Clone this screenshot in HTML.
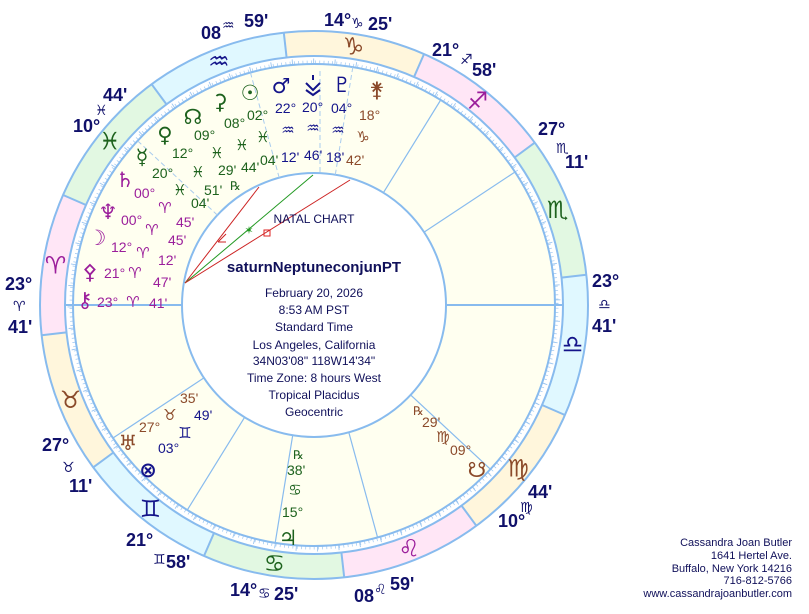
<!DOCTYPE html>
<html><head><meta charset="utf-8"><style>
html,body{margin:0;padding:0;background:#fff;width:809px;height:614px;overflow:hidden}
svg{display:block}
.n{font-family:"Liberation Sans",sans-serif;font-size:14px}
.g{font-family:"DejaVu Sans",sans-serif}
.c{font-family:"Liberation Sans",sans-serif;font-weight:bold;font-size:18px;fill:#10106a}
.cg{font-family:"DejaVu Sans",sans-serif;font-weight:bold;font-size:14px;fill:#10106a}
.ct{font-family:"Liberation Sans",sans-serif;font-size:12px;fill:#10105a}
.G{fill:#1d621d}.B{fill:#14148a}.P{fill:#9b1e9b}.R{fill:#8b4a2a}
</style></head><body>
<svg width="809" height="614" viewBox="0 0 809 614" xmlns="http://www.w3.org/2000/svg">
<g fill="none" stroke-width="25" stroke-dasharray="136.92 1506.13">
<circle cx="314" cy="305" r="261.5" stroke="#ffe6f6" transform="rotate(-186.32 314 305)"/>
<circle cx="314" cy="305" r="261.5" stroke="#fff6dc" transform="rotate(-216.32 314 305)"/>
<circle cx="314" cy="305" r="261.5" stroke="#e0f8ff" transform="rotate(-246.32 314 305)"/>
<circle cx="314" cy="305" r="261.5" stroke="#e2f8e2" transform="rotate(-276.32 314 305)"/>
<circle cx="314" cy="305" r="261.5" stroke="#ffe6f6" transform="rotate(-306.32 314 305)"/>
<circle cx="314" cy="305" r="261.5" stroke="#fff6dc" transform="rotate(-336.32 314 305)"/>
<circle cx="314" cy="305" r="261.5" stroke="#e0f8ff" transform="rotate(-6.32 314 305)"/>
<circle cx="314" cy="305" r="261.5" stroke="#e2f8e2" transform="rotate(-36.32 314 305)"/>
<circle cx="314" cy="305" r="261.5" stroke="#ffe6f6" transform="rotate(-66.32 314 305)"/>
<circle cx="314" cy="305" r="261.5" stroke="#fff6dc" transform="rotate(-96.32 314 305)"/>
<circle cx="314" cy="305" r="261.5" stroke="#e0f8ff" transform="rotate(-126.32 314 305)"/>
<circle cx="314" cy="305" r="261.5" stroke="#e2f8e2" transform="rotate(-156.32 314 305)"/>
</g>
<circle cx="314" cy="305" r="241" fill="#fffff0"/>
<circle cx="314" cy="305" r="132" fill="#fff"/>
<circle cx="314" cy="305" r="243" fill="none" stroke="#9cc6f0" stroke-width="3" stroke-dasharray="0.7 3.55" transform="rotate(-0.32 314 305)"/>
<circle cx="314" cy="305" r="244" fill="none" stroke="#9cc6f0" stroke-width="5" stroke-dasharray="0.9 20.48" transform="rotate(-1.32 314 305)"/>
<g fill="none" stroke="#88bbee" stroke-width="2">
<circle cx="314" cy="305" r="274"/>
<circle cx="314" cy="305" r="249"/>
<circle cx="314" cy="305" r="241"/>
<circle cx="314" cy="305" r="132"/>
</g>
<g stroke="#88bbee" stroke-width="2">
<line x1="86" y1="205" x2="63.1" y2="195"/>
<line x1="66.5" y1="332.4" x2="41.7" y2="335.2"/>
<line x1="113.4" y1="452.5" x2="93.3" y2="467.3"/>
<line x1="214" y1="533" x2="204" y2="555.9"/>
<line x1="341.4" y1="552.5" x2="344.2" y2="577.3"/>
<line x1="461.5" y1="505.6" x2="476.3" y2="525.7"/>
<line x1="542" y1="405" x2="564.9" y2="415"/>
<line x1="561.5" y1="277.6" x2="586.3" y2="274.8"/>
<line x1="514.6" y1="157.5" x2="534.7" y2="142.7"/>
<line x1="414" y1="77" x2="424" y2="54.1"/>
<line x1="286.6" y1="57.5" x2="283.8" y2="32.7"/>
<line x1="166.5" y1="104.4" x2="151.7" y2="84.3"/>
</g>
<g stroke="#88bbee" stroke-width="1.2">
<line x1="182" y1="305" x2="65" y2="305" stroke-width="2"/>
<line x1="203.9" y1="377.9" x2="113" y2="438"/>
<line x1="244.6" y1="417.3" x2="187.3" y2="510"/>
<line x1="292.7" y1="435.3" x2="275.2" y2="542.8"/>
<line x1="348.8" y1="432.3" x2="377.6" y2="537.5"/>
<line x1="410.6" y1="394.9" x2="490.4" y2="469.2"/>
<line x1="446" y1="305" x2="563" y2="305" stroke-width="2"/>
<line x1="424.1" y1="232.1" x2="515" y2="172"/>
<line x1="383.4" y1="192.7" x2="440.7" y2="100"/>
</g>
<g stroke="#aaccee" stroke-width="1" stroke-dasharray="5 3">
<line x1="335.3" y1="174.7" x2="352.8" y2="67.2"/>
<line x1="320" y1="172" x2="320" y2="70"/>
<line x1="279.2" y1="177.7" x2="250.4" y2="72.5"/>
<line x1="217.4" y1="215.1" x2="137.6" y2="140.8"/>
</g>
<g class="g" font-size="24" text-anchor="middle" dominant-baseline="central" font-weight="bold">
<text x="55.5" y="265.5" class="P">♈</text>
<text x="70.4" y="400.1" class="R">♉</text>
<text x="150.5" y="509.1" class="B">♊</text>
<text x="274.5" y="563.5" class="G">♋</text>
<text x="409.1" y="548.6" class="P">♌</text>
<text x="518.1" y="468.5" class="R">♍</text>
<text x="572.5" y="344.5" class="B">♎</text>
<text x="557.6" y="209.9" class="G">♏</text>
<text x="477.5" y="100.9" class="P">♐</text>
<text x="353.5" y="46.5" class="R">♑</text>
<text x="218.9" y="61.4" class="B">♒</text>
<text x="109.9" y="141.5" class="G">♓</text>
</g>
<text class="c" x="5" y="290">23°</text><text class="cg" x="13" y="311">♈</text><text class="c" x="8" y="333">41'</text>
<text class="c" x="42" y="451">27°</text><text class="cg" x="62" y="472">♉</text><text class="c" x="69" y="492">11'</text>
<text class="c" x="126" y="546">21°</text><text class="cg" x="153" y="564">♊</text><text class="c" x="166" y="568">58'</text>
<text class="c" x="230" y="596">14°</text><text class="cg" x="258" y="598">♋</text><text class="c" x="274" y="600">25'</text>
<text class="c" x="354" y="602">08</text><text class="cg" x="374" y="594">♌</text><text class="c" x="390" y="590">59'</text>
<text class="c" x="498" y="527">10°</text><text class="cg" x="520" y="512">♍</text><text class="c" x="528" y="498">44'</text>
<text class="c" x="592" y="287">23°</text><text class="cg" x="598" y="309">♎</text><text class="c" x="592" y="332">41'</text>
<text class="c" x="538" y="135">27°</text><text class="cg" x="556" y="153">♏</text><text class="c" x="565" y="168">11'</text>
<text class="c" x="432" y="56">21°</text><text class="cg" x="460" y="64">♐</text><text class="c" x="472" y="76">58'</text>
<text class="c" x="324" y="26">14°</text><text class="cg" x="351" y="28">♑</text><text class="c" x="368" y="30">25'</text>
<text class="c" x="201" y="39">08</text><text class="cg" x="222" y="30">♒</text><text class="c" x="244" y="27">59'</text>
<text class="c" x="73" y="132">10°</text><text class="cg" x="95" y="115">♓</text><text class="c" x="103" y="101">44'</text>
<g class="g" font-size="21" text-anchor="middle" dominant-baseline="central" font-weight="bold">
<text x="193" y="117" class="G">☊</text>
<text x="220" y="102" class="G">⚳</text>
<text x="250" y="93" class="G">☉</text>
<text x="281" y="86" class="B">♂</text>
<text x="342" y="85" class="B">♇</text>
<text x="377" y="90" class="R">⚵</text>
<text x="165" y="135" class="G">♀</text>
<text x="142" y="157" class="G">☿</text>
<text x="125" y="180" class="P">♄</text>
<text x="108" y="212" class="P">♆</text>
<text x="97" y="238" class="P">☽</text>
<text x="90" y="272" class="P">⚴</text>
<text x="85" y="300" class="P">⚷</text>
<text x="128" y="443" class="R">♅</text>
<text x="148" y="470" class="B">⊗</text>
<text x="288" y="538" class="G">♃</text>
<text x="477" y="470" class="R">☋</text>
</g>
<g stroke="#14148a" stroke-width="2" fill="none"><path d="M306 83 L313 90 L320 83 M306 90 L313 95 L320 90"/><line x1="313" y1="75" x2="313" y2="80"/></g>
<g class="n">
<text x="247" y="120" class="G">02°</text><text x="275" y="113" class="B">22°</text><text x="302" y="112" class="B">20°</text><text x="331" y="113" class="B">04°</text><text x="359" y="120" class="R">18°</text>
<text x="224" y="128" class="G">08°</text><text x="194" y="140" class="G">09°</text><text x="172" y="158" class="G">12°</text><text x="152" y="178" class="G">20°</text>
<text x="134" y="198" class="P">00°</text><text x="121" y="225" class="P">00°</text><text x="111" y="252" class="P">12°</text><text x="104" y="278" class="P">21°</text><text x="97" y="307" class="P">23°</text>
</g>
<g class="g" font-size="15" text-anchor="middle" dominant-baseline="central">
<text x="263" y="137" class="G">♓</text><text x="288" y="130" class="B">♒</text><text x="313" y="128" class="B">♒</text><text x="338" y="130" class="B">♒</text><text x="363" y="137" class="R">♑</text>
<text x="242" y="145" class="G">♓</text><text x="217" y="153" class="G">♓</text><text x="198" y="172" class="G">♓</text><text x="180" y="190" class="G">♓</text>
<text x="165" y="208" class="P">♈</text><text x="152" y="230" class="P">♈</text><text x="143" y="253" class="P">♈</text><text x="135" y="273" class="P">♈</text><text x="133" y="302" class="P">♈</text>
<text x="170" y="415" class="R">♉</text><text x="185" y="433" class="B">♊</text><text x="295" y="490" class="G">♋</text><text x="443" y="437" class="R">♍</text>
</g>
<g class="n" font-size="13">
<text x="260" y="165" class="G">04'</text><text x="281" y="162" class="B">12'</text><text x="304" y="160" class="B">46'</text><text x="326" y="162" class="B">18'</text><text x="346" y="165" class="R">42'</text>
<text x="241" y="172" class="G">44'</text><text x="218" y="175" class="G">29'</text><text x="204" y="195" class="G">51'</text><text x="191" y="208" class="G">04'</text>
<text x="176" y="227" class="P">45'</text><text x="168" y="245" class="P">45'</text><text x="158" y="265" class="P">12'</text><text x="153" y="287" class="P">47'</text><text x="149" y="308" class="P">41'</text>
<text x="180" y="403" class="R">35'</text><text x="194" y="420" class="B">49'</text><text x="139" y="432" class="R" font-size="14">27°</text><text x="158" y="453" class="B" font-size="14">03°</text>
<text x="287" y="475" class="G">38'</text><text x="282" y="517" class="G" font-size="14">15°</text>
<text x="422" y="427" class="R">29'</text><text x="450" y="455" class="R" font-size="14">09°</text>
<text x="230" y="190" class="G" font-size="12">℞</text><text x="293" y="459" class="G" font-size="12">℞</text><text x="413" y="415" class="R" font-size="12">℞</text>
</g>
<line x1="185" y1="283" x2="259" y2="187" stroke="#cc2222" stroke-width="1"/>
<line x1="185" y1="283" x2="313" y2="175" stroke="#229922" stroke-width="1"/>
<line x1="185" y1="283" x2="350" y2="180" stroke="#cc2222" stroke-width="1"/>
<path d="M218 242 L226 234 M218 242 L226 242" stroke="#cc2222" fill="none"/>
<text x="249" y="234" font-family="DejaVu Sans" font-size="11" fill="#229922" text-anchor="middle">✶</text>
<rect x="264" y="230" width="6" height="6" fill="none" stroke="#dd2222"/>
<g text-anchor="middle">
<text x="314" y="223" class="ct">NATAL CHART</text>
<text x="314" y="272" font-family="Liberation Sans,sans-serif" font-weight="bold" font-size="15" fill="#10105a">saturnNeptuneconjunPT</text>
<text x="314" y="297" class="ct">February 20, 2026</text>
<text x="314" y="314" class="ct">8:53 AM  PST</text>
<text x="314" y="331" class="ct">Standard Time</text>
<text x="314" y="349" class="ct">Los Angeles, California</text>
<text x="314" y="365" class="ct">34N03'08"  118W14'34"</text>
<text x="314" y="382" class="ct">Time Zone: 8 hours West</text>
<text x="314" y="399" class="ct">Tropical Placidus</text>
<text x="314" y="416" class="ct">Geocentric</text>
</g>
<g text-anchor="end" font-family="Liberation Sans,sans-serif" font-size="11" fill="#10105a">
<text x="792" y="546">Cassandra Joan Butler</text>
<text x="792" y="559">1641 Hertel Ave.</text>
<text x="792" y="572">Buffalo, New York 14216</text>
<text x="792" y="584">716-812-5766</text>
<text x="792" y="597">www.cassandrajoanbutler.com</text>
</g>
</svg>
</body></html>
